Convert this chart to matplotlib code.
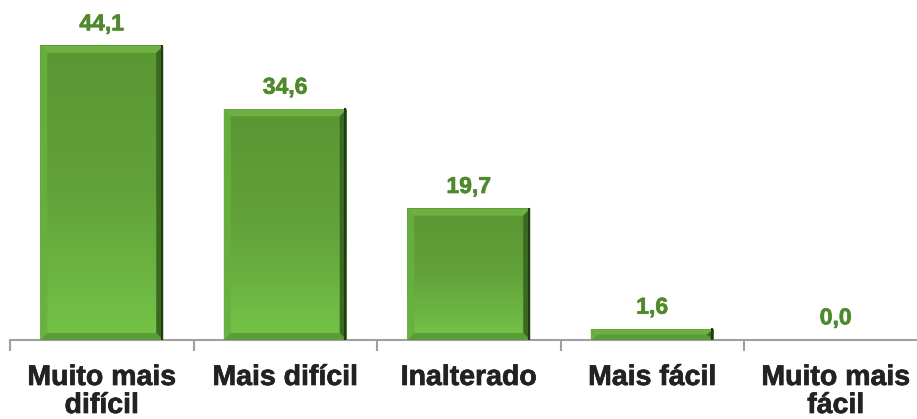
import numpy as np
import matplotlib
matplotlib.use("Agg")
import matplotlib.pyplot as plt
import matplotlib.patheffects as pe
from matplotlib.colors import LinearSegmentedColormap
from matplotlib.patches import Polygon

categories = ["Muito mais\ndifícil", "Mais difícil", "Inalterado", "Mais fácil", "Muito mais\nfácil"]
values = [44.1, 34.6, 19.7, 1.6, 0.0]
value_labels = ["44,1", "34,6", "19,7", "1,6", "0,0"]

plt.rcParams['font.family'] = ['Liberation Sans', 'DejaVu Sans']

W, H = 917, 419
fig = plt.figure(figsize=(W / 100, H / 100), dpi=100)
ax = fig.add_axes([10 / W, (H - 340) / H, 917.5 / W, 340 / H])
ax.set_xlim(-0.5, len(categories) - 0.5)
ax.set_ylim(0, 51)

x = np.arange(len(categories))
bars = ax.bar(x, values, width=0.67, color='none', edgecolor='none', zorder=2)

px_x = 1.0 / (917.5 / len(categories))
px_y = 51.0 / 340

cmap = LinearSegmentedColormap.from_list("g", ["#74c448", "#62a23a", "#5a9632"])
grad = np.linspace(0, 1, 256).reshape(-1, 1)

bev = 7
for b in bars:
    x0, y0 = b.get_x(), b.get_y()
    w, h = b.get_width(), b.get_height()
    if h <= 0:
        continue
    x1, y1 = x0 + w, y0 + h
    ax.imshow(grad, cmap=cmap, aspect='auto', origin='lower',
              extent=[x0, x1, y0, y1], zorder=2, interpolation='bilinear')
    bx = min(bev * px_x, w / 4)
    by = min(bev * px_y, h / 2)
    ax.add_patch(Polygon([[x0, y1], [x1, y1], [x1 - bx, y1 - by], [x0 + bx, y1 - by]],
                         closed=True, facecolor='#6eb044', edgecolor='none', zorder=3))
    ax.add_patch(Polygon([[x0, y0], [x1, y0], [x1 - bx, y0 + by], [x0 + bx, y0 + by]],
                         closed=True, facecolor='#5c9c36', edgecolor='none', zorder=3))
    ax.add_patch(Polygon([[x0, y0], [x0, y1], [x0 + bx, y1 - by], [x0 + bx, y0 + by]],
                         closed=True, facecolor='#68b040', edgecolor='none', zorder=3, alpha=0.9))
    ax.add_patch(Polygon([[x1, y0], [x1, y1], [x1 - bx, y1 - by], [x1 - bx, y0 + by]],
                         closed=True, facecolor='#3a6a22', edgecolor='none', zorder=3))
    ax.plot([x1 - 1.5 * px_x, x1 - 1.5 * px_x], [y0, y1], color='#1f3d10', lw=1.5, zorder=4)

for xi, v, lab in zip(x, values, value_labels):
    ax.text(xi, v + 1.6, lab, ha='center', va='bottom', fontsize=16.5,
            fontweight='bold', color='#4e8a2c',
            path_effects=[pe.withStroke(linewidth=0.5, foreground='#4e8a2c')])

for s in ['top', 'right', 'left']:
    ax.spines[s].set_visible(False)
ax.spines['bottom'].set_color('#a0a0a0')
ax.spines['bottom'].set_linewidth(1.5)
ax.set_yticks([])
ax.set_xticks(np.arange(-0.5, len(categories), 1.0))
ax.set_xticklabels([])
ax.tick_params(axis='x', length=8, width=1.5, color='#a0a0a0', direction='out')
ax.set_xticks(x, minor=True)
ax.set_xticklabels(categories, minor=True, fontsize=20.5, fontweight='bold',
                   color='#222222', linespacing=1.1)
for t in ax.get_xticklabels(minor=True):
    t.set_path_effects([pe.withStroke(linewidth=0.5, foreground='#222222')])
ax.tick_params(axis='x', which='minor', length=0, pad=18)

fig.savefig("out.png", dpi=100)
